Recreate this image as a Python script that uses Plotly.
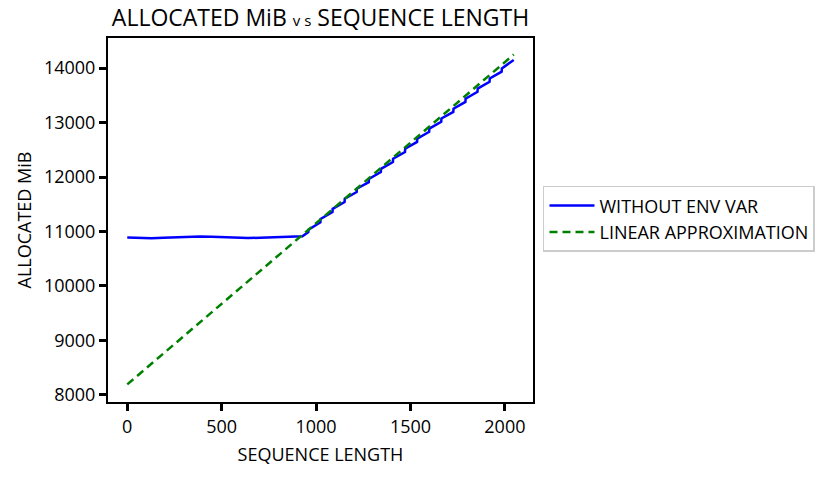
import plotly.graph_objects as go

# ---- data ----
blue_x = [0, 64, 128, 192, 256, 320, 384, 448, 512, 576, 640, 704, 768, 832, 896, 928,
          959, 960, 1023, 1024, 1087, 1088, 1151, 1152, 1215, 1216, 1279, 1280, 1343, 1344,
          1407, 1408, 1471, 1472, 1535, 1536, 1599, 1600, 1663, 1664, 1727, 1728, 1791, 1792,
          1855, 1856, 1919, 1920, 1983, 1984, 2047]
blue_y = [10890, 10880, 10875, 10885, 10895, 10900, 10905, 10900, 10890, 10880, 10878, 10885,
          10895, 10900, 10905, 10910,
          10990, 11030, 11170, 11230, 11355, 11415, 11540, 11600, 11725, 11785, 11905, 11965,
          12090, 12150, 12275, 12335, 12460, 12520, 12645, 12705, 12830, 12890, 13015, 13075,
          13195, 13255, 13380, 13440, 13565, 13625, 13750, 13810, 13935, 13995, 14150]
green_x = [0, 2047]
green_y = [8190, 14250]

x_ticks = [0, 500, 1000, 1500, 2000]
x_labels = ["0", "500", "1000", "1500", "2000"]
y_ticks = [8000, 9000, 10000, 11000, 12000, 13000, 14000]
y_labels = ["8000", "9000", "10000", "11000", "12000", "13000", "14000"]

FONT = "Open Sans"

fig = go.Figure()
fig.add_trace(go.Scatter(x=blue_x, y=blue_y, mode="lines", name="WITHOUT ENV VAR",
                         line=dict(color="#0000ff", width=2.5)))
fig.add_trace(go.Scatter(x=green_x, y=green_y, mode="lines", name="LINEAR APPROXIMATION",
                         line=dict(color="#008000", width=2.5, dash="8px,5px")))

axis_common = dict(showgrid=False, zeroline=False, showline=True, linecolor="black",
                   linewidth=2, mirror=True, ticks="outside", ticklen=7, tickwidth=3,
                   tickcolor="black", tickfont=dict(family=FONT, size=18, color="black"))

fig.update_layout(
    width=828, height=477,
    margin=dict(l=108, r=295, t=38, b=75),
    paper_bgcolor="white", plot_bgcolor="white",
    title=dict(text="ALLOCATED MiB <span style='font-size:15px'>v s</span> SEQUENCE LENGTH",
               x=(108 + 533) / 2 / 828, xanchor="center", y=0.962, yanchor="middle",
               font=dict(family=FONT, size=23, color="black")),
    xaxis=dict(range=[-102, 2149], tickvals=x_ticks, ticktext=x_labels,
               title=dict(text="SEQUENCE LENGTH", font=dict(family=FONT, size=18, color="black"),
                          standoff=12),
               **axis_common),
    yaxis=dict(range=[7866, 14554], tickvals=y_ticks, ticktext=y_labels,
               title=dict(text="ALLOCATED MiB", font=dict(family=FONT, size=18, color="black"),
                          standoff=8),
               **axis_common),
    legend=dict(x=1.0235, xanchor="left", y=0.503, yanchor="middle",
                bordercolor="#cccccc", borderwidth=1.5, bgcolor="white",
                font=dict(family=FONT, size=18, color="black"),
                itemwidth=45, tracegroupgap=6),
    showlegend=True,
)

fig.write_html("out.html")
